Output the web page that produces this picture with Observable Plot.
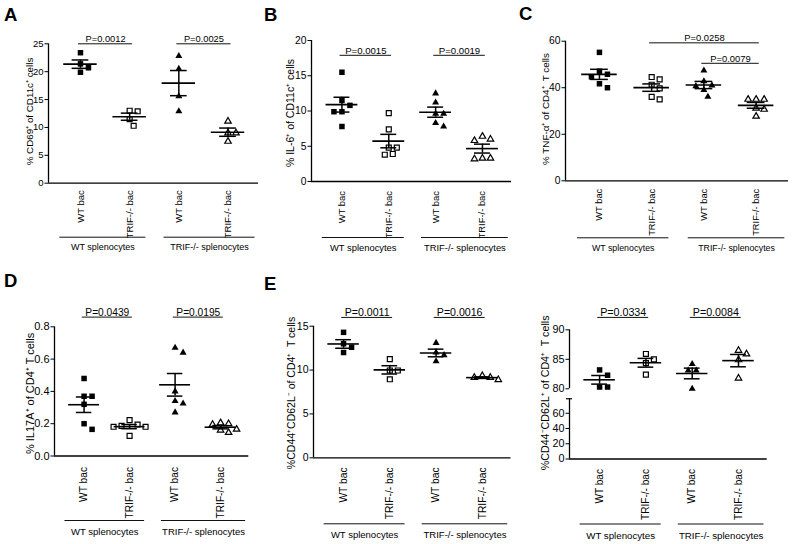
<!DOCTYPE html>
<html><head><meta charset="utf-8">
<script src="https://cdn.jsdelivr.net/npm/d3@7"></script>
<script src="https://cdn.jsdelivr.net/npm/@observablehq/plot@0.6"></script>
<style>
html,body{margin:0;padding:0;background:#fff;}
#fig{position:relative;width:793px;height:544px;overflow:hidden;font-family:"Liberation Sans",Arial,sans-serif;background:#fff;}
.panel{position:absolute;}
.letter{position:absolute;font:bold 18.5px "Liberation Sans",Arial,sans-serif;line-height:1;color:#000;}
</style></head><body><div id="fig"></div>
<script>
// ---------- data ----------
const groupLabels = ["WT bac", "TRIF-/- bac", "WT bac", "TRIF-/- bac"];
const splenocyteLabels = ["WT splenocytes", "TRIF-/- splenocytes"];
const panelLetters = ["A", "B", "C", "D", "E"];

// A
const cd69Label = "% CD69⁺ of CD11c⁺ cells";
const cd69Values = [[23.4, 21.4, 20.7, 19.9], [13.0, 12.9, 11.5, 10.3], [22.8, 20.5, 15.6, 12.9], [11.1, 9.0, 9.0, 7.5]];
const cd69Ticks = [0, 5, 10, 15, 20, 25];
const cd69PLabels = ["P=0.0012", "P=0.0025"];
const cd69PPairs = [[1, 2], [3, 4]];
const cd69PLevels = [25, 25];

// B
const il6Label = "% IL-6⁺ of CD11c⁺ cells";
const il6Values = [[15.5, 11.5, 10.8, 9.9, 9.9, 7.8], [9.7, 7.4, 4.8, 4.8, 3.8, 3.9], [12.5, 11.2, 9.6, 9.6, 7.8, 8.3], [6.4, 6.0, 5.8, 3.3, 3.2, 3.3]];
const il6Ticks = [0, 5, 10, 15, 20];
const il6PLabels = ["P=0.0015", "P=0.0019"];
const il6PPairs = [[1, 2], [3, 4]];
const il6PLevels = [17.9, 17.9];

// C
const tnfLabel = "% TNF-α⁺ of CD4⁺  T cells";
const tnfValues = [[55.2, 47.1, 45.8, 44.7, 41.7, 40.0], [44.6, 43.6, 41.3, 39.7, 36.1, 35.0], [47.4, 42.8, 41.0, 40.7, 39.0, 36.1], [35.0, 35.0, 35.0, 31.2, 30.7, 27.7]];
const tnfTicks = [0, 20, 40, 60];
const tnfPLabels = ["P=0.0258", "P=0.0079"];
const tnfPPairs = [[2, 4], [3, 4]];
const tnfPLevels = [59.3, 50.5];

// D
const il17Label = "% IL17A⁺ of CD4⁺ T cells";
const il17Values = [[0.48, 0.37, 0.37, 0.32, 0.20, 0.165], [0.222, 0.195, 0.187, 0.181, 0.181, 0.125], [0.67, 0.64, 0.40, 0.34, 0.325, 0.27], [0.205, 0.20, 0.195, 0.165, 0.16, 0.145]];
const il17Ticks = [0, 0.2, 0.4, 0.6, 0.8];
const il17PLabels = ["P=0.0439", "P=0.0195"];
const il17PPairs = [[1, 2], [3, 4]];
const il17PLevels = [0.86, 0.86];

// E (left)
const effLabel = "%CD44⁺CD62L⁻ of CD4⁺  T cells";
const effValues = [[14.3, 13.0, 12.6, 12.0], [11.25, 9.95, 9.95, 8.95], [13.1, 12.0, 11.7, 11.0], [9.35, 9.15, 9.15, 8.9]];
const effTicks = [0, 5, 10, 15];
const effPLabels = ["P=0.0011", "P=0.0016"];
const effPPairs = [[1, 2], [3, 4]];
const effPLevels = [16.0, 16.0];

// E (right)
const naiveLabel = "%CD44⁻CD62L⁺ of CD4⁺  T cells";
const naiveValues = [[83.2, 82.3, 80.3, 80.3], [85.9, 85.0, 84.35, 82.4], [84.2, 83.1, 83.1, 80.0], [86.5, 85.9, 84.9, 81.8]];
const naiveTicks = [0, 20, 40, 60, 80, 85, 90];
const naivePLabels = ["P=0.0334", "P=0.0084"];
const naivePPairs = [[1, 2], [3, 4]];
const naivePLevels = [92.1, 92.1];

// ---------- layout (positions / styles) ----------
const xDomain = [0.35, 4.62];
const FONT = '"Liberation Sans", Arial, Helvetica, sans-serif';

const panels = [
  {ylabel: cd69Label, values: cd69Values, ticks: cd69Ticks, pLabels: cd69PLabels, pPairs: cd69PPairs, pLevels: cd69PLevels,
   L: {box: [0, 0, 265, 272], left: 48, right: 258, yDomain: [0, 25], yRange: [182.7, 43.3],
       fs: {tick: 9.5, ylab: 9.8, p: 9.3, cat: 9.5, grp: 9}, ylabDx: -19, ylabDy: -2, off: {cat: 7, line: 54, grp: 64}, fmt: d3.format("d")}},
  {ylabel: il6Label, values: il6Values, ticks: il6Ticks, pLabels: il6PLabels, pPairs: il6PPairs, pLevels: il6PLevels,
   L: {box: [265, 0, 265, 272], left: 311, right: 511, yDomain: [0, 20], yRange: [181, 40],
       fs: {tick: 10.3, ylab: 10.5, p: 9.6, cat: 9.4, grp: 9.4}, ylabDx: -20.5, ylabDy: 2, off: {cat: 9.5, line: 56, grp: 66}, fmt: d3.format("d")}},
  {ylabel: tnfLabel, values: tnfValues, ticks: tnfTicks, pLabels: tnfPLabels, pPairs: tnfPPairs, pLevels: tnfPLevels,
   L: {box: [530, 0, 263, 272], left: 565, right: 788, yDomain: [0, 60], yRange: [180.3, 40.7],
       fs: {tick: 10.3, ylab: 9.8, p: 9.4, cat: 9.3, grp: 8.8}, ylabDx: -20, ylabDy: -2, off: {cat: 8, line: 57, grp: 67}, fmt: d3.format("d")}},
  {ylabel: il17Label, values: il17Values, ticks: il17Ticks, pLabels: il17PLabels, pPairs: il17PPairs, pLevels: il17PLevels,
   L: {box: [0, 272, 265, 272], left: 54, right: 248.3, yDomain: [0, 0.8], yRange: [455.5, 326.3],
       fs: {tick: 11, ylab: 11, p: 10.2, cat: 10.2, grp: 9.5}, ylabDx: -24, ylabDy: 2, off: {cat: 11, line: 64.5, grp: 76}, fmt: d3.format(".1f")}},
  {ylabel: effLabel, values: effValues, ticks: effTicks, pLabels: effPLabels, pPairs: effPPairs, pLevels: effPLevels,
   L: {box: [265, 272, 265, 272], left: 313, right: 510.5, yDomain: [0, 15], yRange: [457.3, 325.7],
       fs: {tick: 10.5, ylab: 10.5, p: 10.6, cat: 10.3, grp: 9.5}, ylabDx: -22, ylabDy: 1, off: {cat: 9.5, line: 66, grp: 77}, fmt: d3.format("d")}},
  {ylabel: naiveLabel, values: naiveValues, ticks: naiveTicks, pLabels: naivePLabels, pPairs: naivePPairs, pLevels: naivePLevels,
   L: {box: [530, 272, 263, 272], left: 569, right: 766.7, yDomain: [0, 80, 80, 90], yRange: [458.5, 397.5, 388.3, 329.3],
       segments: [[0, 79], [80, 90]], breakAt: 79,
       fs: {tick: 10.8, ylab: 10.7, p: 10.7, cat: 10.1, grp: 9.7}, ylabDx: -24, ylabDy: -1.5, off: {cat: 10, line: 65, grp: 76.5}, fmt: d3.format("d")}}
];

const letterPos = [[4, 5.5], [264, 5.5], [519, 4.5], [4, 272], [264, 274.5]];

// deterministic horizontal spreading of overlapping points (pixel space)
function spread(vals, g, yPx, pxPerX) {
  const MIN = 7, STEP = 4;
  const order = vals.map((v, i) => i).sort((a, b) => vals[b] - vals[a]);
  const placed = [], out = new Array(vals.length);
  for (const i of order) {
    const py = yPx(vals[i]);
    let off = 0;
    for (let k = 0; k < 30; k++) {
      const cand = k === 0 ? 0 : (k % 2 ? 1 : -1) * Math.ceil(k / 2) * STEP;
      if (placed.every(p => Math.hypot(p.x - cand, p.y - py) >= MIN)) { off = cand; break; }
    }
    placed.push({x: off, y: py});
    out[i] = g + off / pxPerX;
  }
  return out;
}

const symbolStyles = [
  {symbol: "square", fill: "#000", stroke: "none", r: 3.1},
  {symbol: "square", fill: "#fff", stroke: "#000", strokeWidth: 1.2, r: 2.8},
  {symbol: "triangle", fill: "#000", stroke: "none", r: 2.6},
  {symbol: "triangle", fill: "#fff", stroke: "#000", strokeWidth: 1.2, r: 2.4}
];

const fig = document.getElementById("fig");

panels.forEach(spec => {
  const L = spec.L;
  const [bx, by, bw, bh] = L.box;
  const yRangeLocal = L.yRange.map(v => v - by);
  const mTop = Math.min(...yRangeLocal), mBot = bh - Math.max(...yRangeLocal);
  const mLeft = L.left - bx, mRight = bx + bw - L.right;
  const pxPerX = (L.right - L.left) / (xDomain[1] - xDomain[0]);
  const yPx = d3.scaleLinear().domain(L.yDomain).range(yRangeLocal);
  const y0 = L.yDomain[0];
  const yMax = L.yDomain[L.yDomain.length - 1];

  const rows = [];
  spec.values.forEach((vals, gi) => {
    const xs = spread(vals, gi + 1, yPx, pxPerX);
    vals.forEach((v, i) => rows.push({g: gi + 1, v, x: xs[i]}));
  });
  const stats = spec.values.map((vals, gi) => {
    const m = d3.mean(vals), s = d3.deviation(vals) / Math.sqrt(vals.length);
    return {g: gi + 1, mean: m, lo: m - s, hi: m + s};
  });
  const caps = stats.flatMap(s => [{g: s.g, y: s.lo}, {g: s.g, y: s.hi}]);
  const cats = groupLabels.map((t, i) => ({g: i + 1, t}));
  const spl = splenocyteLabels.map((t, i) => i === 0
    ? {t, x1: 1 - 0.42, x2: 2 + 0.33}
    : {t, x1: 3 - 0.3, x2: 4 + 0.55});
  const pRows = spec.pLabels.map((t, i) => ({t, x1: spec.pPairs[i][0] - 0.04, x2: spec.pPairs[i][1] + 0.06, y: spec.pLevels[i]}));
  const segments = L.segments || [[y0, yMax]];

  const marks = [
    Plot.ruleY([y0], {stroke: "#000", strokeWidth: 1.3}),
    Plot.ruleX(segments, {x: () => xDomain[0], y1: d => d[0], y2: d => d[1], stroke: "#000", strokeWidth: 1.3}),
    Plot.axisY({ticks: spec.ticks, tickSize: 3.5, tickPadding: 1.5, fontSize: L.fs.tick, tickFormat: L.fmt, label: null, stroke: "#000"}),
    ...(L.breakAt !== undefined ? [Plot.ruleY([L.breakAt], {x1: xDomain[0], x2: xDomain[0], insetLeft: -3, insetRight: -3, stroke: "#000", strokeWidth: 1.2})] : []),
    ...symbolStyles.map((s, gi) => Plot.dot(rows.filter(d => d.g === gi + 1), {x: "x", y: "v", ...s})),
    Plot.ruleY(stats, {y: "mean", x1: d => d.g - 0.34, x2: d => d.g + 0.34, stroke: "#000", strokeWidth: 1.6}),
    Plot.ruleX(stats, {x: "g", y1: "lo", y2: "hi", stroke: "#000", strokeWidth: 1.5}),
    Plot.ruleY(caps, {y: "y", x1: d => d.g - 0.17, x2: d => d.g + 0.17, stroke: "#000", strokeWidth: 1.5}),
    Plot.ruleY(pRows, {y: "y", x1: "x1", x2: "x2", stroke: "#111", strokeWidth: 1}),
    Plot.text(pRows, {x: d => (d.x1 + d.x2) / 2, y: "y", text: "t", lineAnchor: "bottom", dy: -1.5, fontSize: L.fs.p, fill: "#000"}),
    Plot.text(cats, {x: "g", y: () => y0, text: "t", rotate: -90, textAnchor: "end", dy: L.off.cat, fontSize: L.fs.cat, fill: "#000"}),
    Plot.ruleY(spl, {y: () => y0, x1: "x1", x2: "x2", dy: L.off.line, stroke: "#111", strokeWidth: 1}),
    Plot.text(spl, {x: d => (d.x1 + d.x2) / 2, y: () => y0, text: "t", dy: L.off.grp, fontSize: L.fs.grp, fill: "#000"}),
    Plot.text([spec.ylabel], {frameAnchor: "left", rotate: -90, textAnchor: "middle", dx: L.ylabDx, dy: L.ylabDy, text: d => d, fontSize: L.fs.ylab, fill: "#000"})
  ];

  const svg = Plot.plot({
    width: bw, height: bh,
    marginLeft: mLeft, marginRight: mRight, marginTop: mTop, marginBottom: mBot,
    x: {type: "linear", domain: xDomain, axis: null},
    y: {type: "linear", domain: L.yDomain, range: yRangeLocal, axis: null},
    style: {fontFamily: FONT, fontSize: "10px", color: "#000", background: "transparent", overflow: "visible"},
    marks
  });
  const wrap = document.createElement("div");
  wrap.className = "panel";
  wrap.style.left = bx + "px";
  wrap.style.top = by + "px";
  wrap.appendChild(svg);
  fig.appendChild(wrap);
});

panelLetters.forEach((t, i) => {
  const d = document.createElement("div");
  d.className = "letter";
  d.textContent = t;
  d.style.left = letterPos[i][0] + "px";
  d.style.top = letterPos[i][1] + "px";
  fig.appendChild(d);
});
</script></body></html>
